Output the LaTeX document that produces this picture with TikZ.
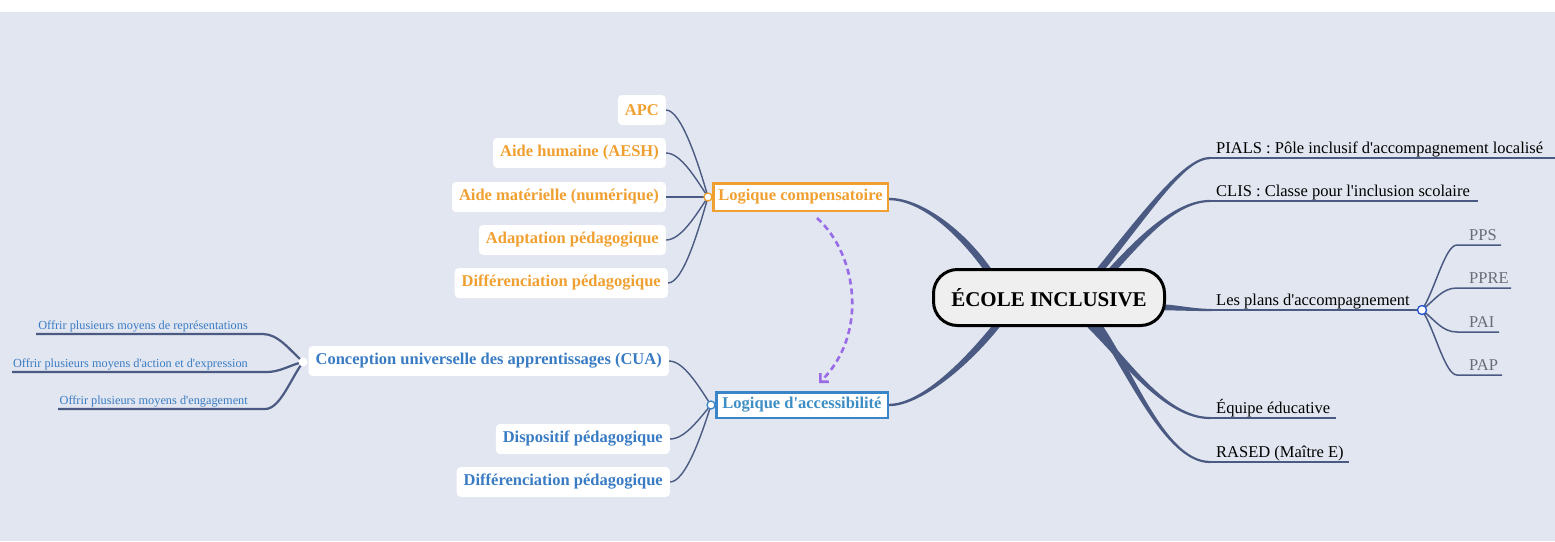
\documentclass[tikz,border=0pt]{standalone}
\usepackage{fontspec}
\setmainfont{Liberation Serif}[Ligatures=TeXOff]
\usetikzlibrary{arrows.meta,calc,backgrounds}
\definecolor{bg}{HTML}{E1E6F0}
\definecolor{conn}{HTML}{4A5A82}
\definecolor{orng}{HTML}{F0A030}
\definecolor{blu}{HTML}{3A85C8}
\definecolor{blutxt}{HTML}{3D8EC4}
\definecolor{cuatxt}{HTML}{3A7CC4}
\definecolor{purp}{HTML}{9A6BE6}
\definecolor{gry}{HTML}{686C76}
\definecolor{pblue}{HTML}{2050D0}
\definecolor{rootfill}{HTML}{EFEFEF}
\newcommand\taperpath[6]{%
  \path ($(#1)!#5pt!90:(#2)$) coordinate (tA) ($(#1)!#5pt!-90:(#2)$) coordinate (tB)
        ($(#4)!#6pt!-90:(#3)$) coordinate (tC) ($(#4)!#6pt!90:(#3)$) coordinate (tD);
  \fill[conn] (tA) .. controls ($(#2)+(tA)-(#1)$) and ($(#3)+(tC)-(#4)$) .. (tC)
     -- (tD) .. controls ($(#3)+(tD)-(#4)$) and ($(#2)+(tB)-(#1)$) .. (tB) -- cycle;
}
\begin{document}
\begin{tikzpicture}[x=1pt,y=-1pt,
  thinconn/.style={draw=conn,line width=1.4pt},
  uline/.style={draw=conn,line width=2.2pt},
  subline/.style={draw=conn,line width=1.5pt},
  kid/.style={rounded corners=4pt,fill=white,font=\bfseries\fontsize{16.5}{18}\selectfont,
    minimum height=30pt,inner xsep=7pt,inner ysep=0pt,anchor=east},
  kidO/.style={kid,text=orng},
  kidB/.style={kid,text=cuatxt},
  rtxt/.style={font=\fontsize{16.5}{18}\selectfont,anchor=base west,inner sep=0pt},
  gtxt/.style={rtxt,text=gry},
  stxt/.style={font=\fontsize{12.3}{14}\selectfont,text=cuatxt,anchor=base east,inner sep=0pt},
  dot/.style={circle,fill=white,line width=1.3pt,minimum size=8pt,inner sep=0pt},
  logicbox/.style={fill=white,line width=2.5pt,inner sep=0pt,
    font=\bfseries\fontsize{16.5}{18}\selectfont}
]
\useasboundingbox (0,0) rectangle (1555,541);

% ---- nodes ----
\node[draw=black,line width=3pt,fill=rootfill,rounded corners=24pt,minimum width=231pt,
  minimum height=56pt,inner sep=0pt,font=\bfseries\fontsize{21}{24}\selectfont] (root) at (1049,297.5) {ÉCOLE INCLUSIVE};

\node[logicbox,draw=orng,text=orng,minimum width=174.5pt,minimum height=27.5pt] (lc) at (800.5,197) {Logique compensatoire};
\node[logicbox,draw=blu,text=blutxt,minimum width=171.5pt,minimum height=25.5pt] (la) at (802,405) {Logique d'accessibilité};

\node[dot,draw=orng] (lcc) at (708,197) {};
\node[dot,draw=blu] (lac) at (711,405) {};
\node[circle,fill=white,minimum size=9pt,inner sep=0pt] (cuac) at (303,362) {};
\node[dot,draw=pblue,minimum size=9pt] (plc) at (1422,310) {};

\node[kidO] (apc) at (666,110) {APC};
\node[kidO] (aesh) at (666,153) {Aide humaine (AESH)};
\node[kidO] (mat) at (666,197) {Aide matérielle (numérique)};
\node[kidO] (adap) at (666,240) {Adaptation pédagogique};
\node[kidO] (diffa) at (668,283) {Différenciation pédagogique};

\node[kidB] (cua) at (669,361) {Conception universelle des apprentissages (CUA)};
\node[kidB] (disp) at (670,439) {Dispositif pédagogique};
\node[kidB] (diffb) at (670,482) {Différenciation pédagogique};

\node[stxt] (rep) at (248,329.5) {Offrir plusieurs moyens de représentations};
\node[stxt] (act) at (248,367.5) {Offrir plusieurs moyens d'action et d'expression};
\node[stxt] (eng) at (248,404.5) {Offrir plusieurs moyens d'engagement};

\node[rtxt] (pials) at (1216,153) {PIALS : Pôle inclusif d'accompagnement localisé};
\node[rtxt] (clis) at (1216,196) {CLIS : Classe pour l'inclusion scolaire};
\node[rtxt] (plans) at (1216,305) {Les plans d'accompagnement};
\node[rtxt] (equipe) at (1216,413) {Équipe éducative};
\node[rtxt] (rased) at (1216,457) {RASED (Maître E)};

\node[gtxt] (pps) at (1469,240) {PPS};
\node[gtxt] (ppre) at (1469,283) {PPRE};
\node[gtxt] (pai) at (1469,327) {PAI};
\node[gtxt] (pap) at (1469,370) {PAP};

% ---- coordinates for underline ends and arrow ----
\coordinate (piS) at (1210,158);  \coordinate (piE) at (1555,158);
\coordinate (clS) at (1210,201);  \coordinate (clE) at (1478,201);
\coordinate (plS) at (1212,310);
\coordinate (eqS) at (1210,418);  \coordinate (eqE) at (1336,418);
\coordinate (raS) at (1210,462);  \coordinate (raE) at (1349,462);
\coordinate (ppsS) at (1457,245); \coordinate (ppsE) at (1501,245);
\coordinate (ppreS) at (1457,288);\coordinate (ppreE) at (1511,288);
\coordinate (paiS) at (1457,332); \coordinate (paiE) at (1499,332);
\coordinate (papS) at (1457,375); \coordinate (papE) at (1502,375);
\coordinate (repS) at (263,334);  \coordinate (repE) at (36,334);
\coordinate (actS) at (267,372);  \coordinate (actE) at (12,372);
\coordinate (engS) at (265,409);  \coordinate (engE) at (58,409);
\coordinate (dA) at (817,218);    \coordinate (dB) at (819,383);

% ---- background and connectors ----
\begin{scope}[on background layer]
  \fill[white] (0,0) rectangle (1555,541);
  \fill[bg] (0,12) rectangle (1555,541);

  % thick tapered branches from the root
  \taperpath{988,270}{958,228}{919,199}{889,199}{3.4}{1.2}
  \taperpath{997,325}{965,365}{920,405}{889,405}{3.4}{1.2}
  \taperpath{1100,270}{1150,208}{1185,158}{1210,158}{3.4}{1.1}
  \taperpath{1112,270}{1140,240}{1175,201}{1210,201}{3.4}{1.1}
  \taperpath{1150,307}{1175,307}{1190,310}{1212,310}{3.2}{1.1}
  \taperpath{1090,325}{1125,360}{1165,418}{1210,418}{3.4}{1.1}
  \taperpath{1098,325}{1130,370}{1165,462}{1210,462}{3.4}{1.1}

  \draw[uline] (piS) -- (piE);
  \draw[uline] (clS) -- (clE);
  \draw[uline] (plS) -- (plc.center);
  \draw[uline] (eqS) -- (eqE);
  \draw[uline] (raS) -- (raE);

  % plans sub-branches
  \draw[subline] (plc.center) .. controls (1435,290) and (1445,245) .. (ppsS) -- (ppsE);
  \draw[subline] (plc.center) .. controls (1435,300) and (1442,288) .. (ppreS) -- (ppreE);
  \draw[subline] (plc.center) .. controls (1435,320) and (1442,332) .. (paiS) -- (paiE);
  \draw[subline] (plc.center) .. controls (1435,330) and (1445,375) .. (papS) -- (papE);

  % compensatoire children
  \draw[thinconn] (apc.east) .. controls +(15,0) and +(-10,-35) .. (lcc.center);
  \draw[thinconn] (aesh.east) .. controls +(15,0) and +(-12,-18) .. (lcc.center);
  \draw[thinconn] (mat.east) -- (lcc.center);
  \draw[thinconn] (adap.east) .. controls +(15,0) and +(-12,18) .. (lcc.center);
  \draw[thinconn] (diffa.east) .. controls +(15,0) and +(-10,35) .. (lcc.center);

  % accessibilite children
  \draw[thinconn] (cua.east) .. controls +(15,0) and +(-12,-18) .. (lac.center);
  \draw[thinconn] (disp.east) .. controls +(15,0) and +(-12,14) .. (lac.center);
  \draw[thinconn] (diffb.east) .. controls +(15,0) and +(-10,32) .. (lac.center);

  % CUA children
  \draw[uline] (cuac.center) .. controls (290,350) and (278,334) .. (repS) -- (repE);
  \draw[uline] (cuac.center) .. controls (290,365) and (280,372) .. (actS) -- (actE);
  \draw[uline] (cuac.center) .. controls (290,380) and (280,409) .. (engS) -- (engE);
\end{scope}

% dashed relation arrow
\draw[purp,line width=2.6pt,dash pattern=on 6pt off 4pt,
  -{Straight Barb[length=6pt,width=12pt]}] (dA) .. controls (858,255) and (868,335) .. (dB);
\end{tikzpicture}
\end{document}
